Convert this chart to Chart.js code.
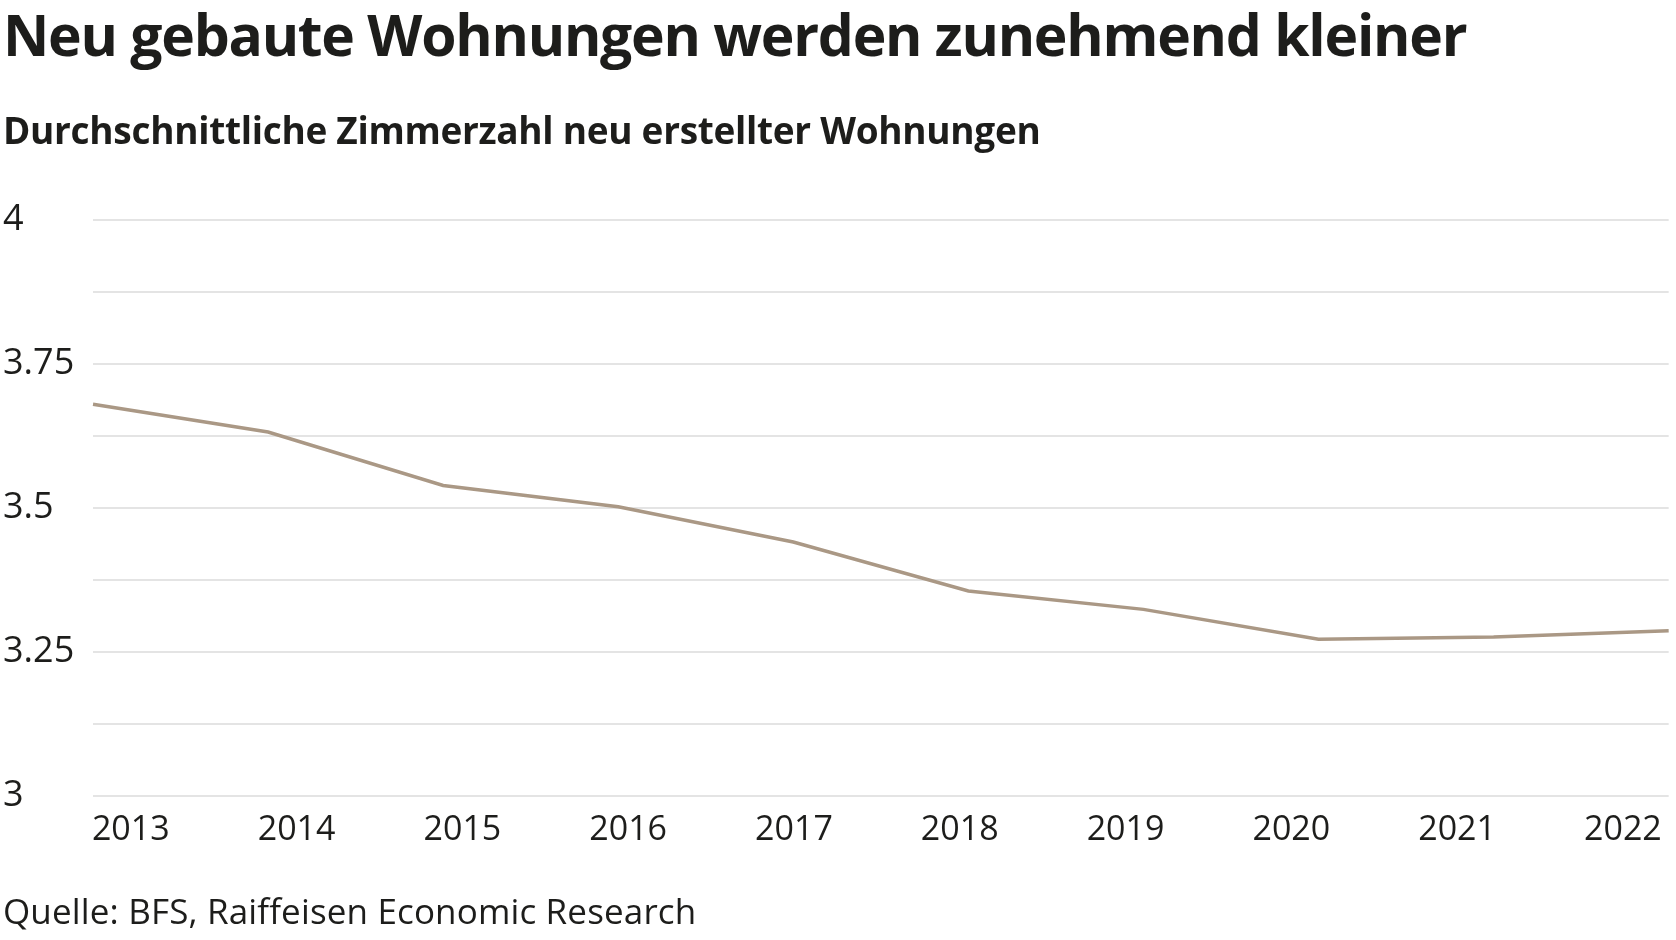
<!DOCTYPE html>
<html lang="de">
<head>
<meta charset="utf-8">
<title>Neu gebaute Wohnungen werden zunehmend kleiner</title>
<script src="https://cdn.jsdelivr.net/npm/chart.js@4/dist/chart.umd.min.js"></script>
<style>
  html, body { margin: 0; padding: 0; background: #ffffff; }
  body { width: 1676px; height: 940px; position: relative; overflow: hidden; font-family: "Open Sans", "Noto Sans", sans-serif; color: #1d1d1b; }
  #wrap { position: absolute; left: 0; top: 0; width: 1676px; height: 940px; }
  canvas { position: absolute; left: 0; top: 0; }
  .txt { position: absolute; left: 3px; margin: 0; line-height: 1; white-space: nowrap; }
  #title { top: 6px; font-size: 57px; font-weight: 700; letter-spacing: -1.25px; }
  #subtitle { top: 111px; font-size: 37px; font-weight: 700; letter-spacing: -0.3px; }
  #source { top: 893px; font-size: 35px; font-weight: 400; letter-spacing: 0.15px; }
</style>
</head>
<body>
<div id="wrap">
  <canvas id="chart" width="1676" height="940"></canvas>
  <h1 class="txt" id="title">Neu gebaute Wohnungen werden zunehmend kleiner</h1>
  <h2 class="txt" id="subtitle">Durchschnittliche Zimmerzahl neu erstellter Wohnungen</h2>
  <p class="txt" id="source">Quelle: BFS, Raiffeisen Economic Research</p>
</div>
<script>
// ---- data ----
const years = [2013, 2014, 2015, 2016, 2017, 2018, 2019, 2020, 2021, 2022];
const roomsAvg = [3.68, 3.632, 3.539, 3.502, 3.441, 3.356, 3.324, 3.272, 3.276, 3.287];
const yMin = 3;
const yMax = 4;
const yGridStep = 0.125;
const yLabelStep = 0.25;

const textColor = '#1d1d1b';
const lineColor = '#aa9885';
const gridColor = '#e4e4e4';

new Chart(document.getElementById('chart'), {
  type: 'line',
  data: {
    labels: years.map(String),
    datasets: [{
      label: 'Durchschnittliche Zimmerzahl',
      data: roomsAvg,
      borderColor: lineColor,
      backgroundColor: lineColor,
      borderWidth: 3.5,
      pointRadius: 0,
      pointHoverRadius: 0,
      tension: 0,
      xAxisID: 'x',
      yAxisID: 'y'
    }]
  },
  options: {
    responsive: false,
    animation: false,
    devicePixelRatio: 1,
    layout: { padding: { top: 220, left: 3, right: 0, bottom: 94 } },
    plugins: {
      legend: { display: false },
      tooltip: { enabled: false },
      title: { display: false }
    },
    scales: {
      x: {
        type: 'category',
        display: false,
        offset: false
      },
      x2: {
        type: 'linear',
        position: 'bottom',
        min: 2012.772,
        max: 2022.276,
        grid: { display: false, drawTicks: false },
        border: { display: false },
        afterBuildTicks: (scale) => { scale.ticks = years.map(v => ({ value: v })); },
        afterFit: (scale) => { scale.height = 50; },
        ticks: {
          autoSkip: false,
          maxRotation: 0,
          minRotation: 0,
          padding: 14,
          color: textColor,
          font: { family: '"Open Sans", "Noto Sans", sans-serif', size: 34 },
          callback: (v) => String(v)
        }
      },
      y: {
        type: 'linear',
        position: 'left',
        min: yMin,
        max: yMax,
        border: { display: false },
        grid: { color: gridColor, lineWidth: 2, drawTicks: false },
        afterFit: (scale) => { scale.width = 90; },
        ticks: {
          stepSize: yGridStep,
          crossAlign: 'far',
          padding: 0,
          color: textColor,
          font: { family: '"Open Sans", "Noto Sans", sans-serif', size: 36 },
          callback: (v) => {
            const r = v / yLabelStep;
            return Math.abs(r - Math.round(r)) < 1e-6 ? String(Math.round(v * 100) / 100) : '';
          }
        }
      }
    }
  }
});
</script>
</body>
</html>
